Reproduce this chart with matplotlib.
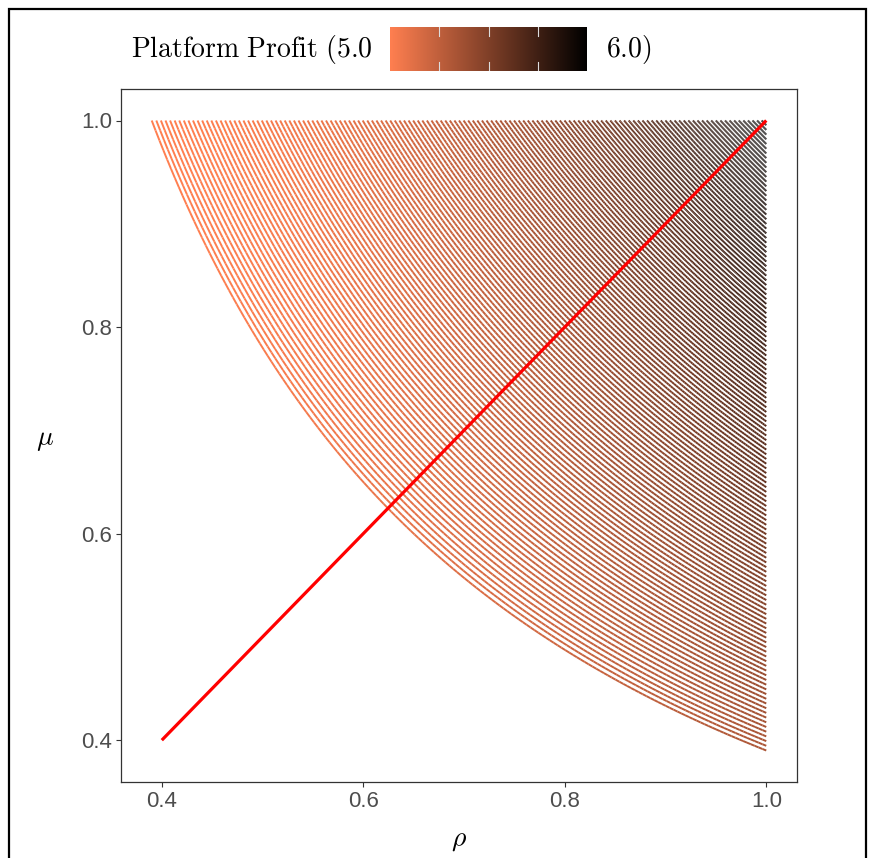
import numpy as np
import matplotlib
matplotlib.use("Agg")
import matplotlib.pyplot as plt
from matplotlib.colors import LinearSegmentedColormap, Normalize
from matplotlib.collections import LineCollection
from matplotlib.patches import Rectangle

plt.rcParams['mathtext.fontset'] = 'cm'
plt.rcParams['font.family'] = ['Liberation Sans', 'DejaVu Sans']

# ---- data ----
rho_range = [0.39, 1.0]          # rho span of the curves
mu_range = [0.39, 1.0]           # mu span of the curves
profit_range = [5.0, 6.0]        # colour scale limits
n_curves = 135                   # number of curves rho*mu = c
profit_corner_low = 5.33         # profit read at (rho=1, mu=0.39)
diag_rho = [0.4, 1.0]            # red line
diag_mu = [0.4, 1.0]
x_ticks = [0.4, 0.6, 0.8, 1.0]
y_ticks = [0.4, 0.6, 0.8, 1.0]
cbar_ticks = [5.25, 5.5, 5.75]
low_color = '#FF7F50'
high_color = '#000000'

cmap = LinearSegmentedColormap.from_list('cb', [low_color, high_color])
norm = Normalize(profit_range[0], profit_range[1])


def profit(r, m):
    u = (r - rho_range[0]) / (rho_range[1] - rho_range[0])
    v = (m - mu_range[0]) / (mu_range[1] - mu_range[0])
    base = profit_corner_low - profit_range[0]
    return profit_range[0] + u ** 2 * (base + (1 - base) * v)


c_values = np.linspace(rho_range[0] * mu_range[1], rho_range[1] * mu_range[1], n_curves)
segs, vals = [], []
for c in c_values:
    r = np.linspace(c / mu_range[1], rho_range[1], 160)
    m = c / r
    pts = np.column_stack([r, m])
    s = np.stack([pts[:-1], pts[1:]], axis=1)
    segs.append(s)
    mid = (pts[:-1] + pts[1:]) / 2
    vals.append(profit(mid[:, 0], mid[:, 1]))
segs = np.concatenate(segs)
vals = np.concatenate(vals)

W, H = 875, 858
fig = plt.figure(figsize=(W / 100, H / 100), dpi=100)
L, Rr, T, B = 121, 797, 89, 782
ax = fig.add_axes([L / W, 1 - B / H, (Rr - L) / W, (B - T) / H])

lc = LineCollection(segs, cmap=cmap, norm=norm, linewidths=1.4, capstyle='butt')
lc.set_array(vals)
ax.add_collection(lc)
ax.plot(diag_rho, diag_mu, color='#FF0000', lw=2.3, solid_capstyle='butt')

ax.set_xlim(0.3595, 1.0305)
ax.set_ylim(0.3595, 1.0305)
ax.set_xticks(x_ticks)
ax.set_yticks(y_ticks)
ax.set_xticklabels([f'{v:.1f}' for v in x_ticks])
ax.set_yticklabels([f'{v:.1f}' for v in y_ticks])
ax.tick_params(length=3.5, width=0.8, color='#333333', labelcolor='#4D4D4D', labelsize=16, pad=3)
for s in ax.spines.values():
    s.set_color('#333333')
    s.set_linewidth(0.9)

fig.text(459 / W, 1 - 840 / H, r'$\rho$', ha='center', va='center', fontsize=20)
fig.text(45 / W, 1 - 440 / H, r'$\mu$', ha='center', va='center', fontsize=20)

# ---- colour bar legend ----
cax = fig.add_axes([390 / W, 1 - 71 / H, 197 / W, 44 / H])
grad = np.linspace(profit_range[0], profit_range[1], 256).reshape(1, -1)
cax.imshow(grad, aspect='auto', cmap=cmap, norm=norm,
           extent=[profit_range[0], profit_range[1], 0, 1])
cax.set_xlim(profit_range)
cax.set_ylim(0, 1)
for t in cbar_ticks:
    cax.plot([t, t], [0, 0.2], color='#DDDDDD', lw=0.8)
    cax.plot([t, t], [0.8, 1], color='#DDDDDD', lw=0.8)
cax.axis('off')

fig.text(373 / W, 1 - 50 / H, r'$\mathrm{Platform\ Profit\ (5.0}$', ha='right', va='center', fontsize=20)
fig.text(606 / W, 1 - 50 / H, r'$\mathrm{6.0)}$', ha='left', va='center', fontsize=20)

# outer frame
fig.patches.append(Rectangle((9 / W, -0.05), (866 - 9) / W, 1.05 - 9 / H, transform=fig.transFigure,
                             fill=False, edgecolor='black', lw=1.6))

fig.savefig('out.png', dpi=100)
